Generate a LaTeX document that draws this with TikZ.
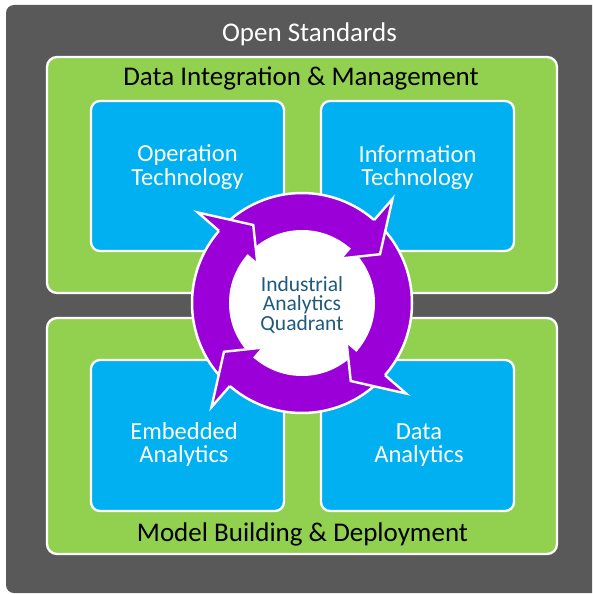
\documentclass[tikz,border=0pt]{standalone}
\usepackage{fontspec}
\setmainfont{Carlito}
\definecolor{bggray}{HTML}{595959}
\definecolor{grn}{HTML}{92D050}
\definecolor{blu}{HTML}{00B0F0}
\definecolor{ringpurple}{RGB}{155,0,217}
\definecolor{ctrtext}{RGB}{31,90,125}
\begin{document}
\begin{tikzpicture}[x=1pt,y=-1pt,
  panel/.style={draw=white, line width=2.3pt, fill=grn, rounded corners=10pt},
  bluebox/.style={draw=white, line width=2.3pt, fill=blu, rounded corners=9pt},
  ttl/.style={font=\fontsize{27}{30}\selectfont, anchor=base, inner sep=0pt},
  btxt/.style={font=\fontsize{24.5}{23.5}\selectfont, text=white, align=center, anchor=center, inner sep=0pt},
  ctxt/.style={font=\fontsize{21.5}{19.5}\selectfont, text=ctrtext, align=center, anchor=center, inner sep=0pt},
  headline/.style={draw=white, line width=2.4pt, line join=miter}]
\useasboundingbox (0,0) rectangle (592,594);
\clip (0,0) rectangle (592,594);
\fill[white] (0,0) rectangle (592,594);
% outer gray panel
\fill[bggray, rounded corners=8pt] (6,5) rectangle (610,593);
% green panels
\draw[panel] (47,57) rectangle (557,293);
\draw[panel] (47,318) rectangle (557,554);
% blue boxes
\draw[bluebox] (91,101) rectangle (284,251);
\draw[bluebox] (321,101) rectangle (514,251);
\draw[bluebox] (91,360) rectangle (284,511);
\draw[bluebox] (321,360) rectangle (514,511);
% titles
\node[ttl, text=white] (os) at (309.5,42) {Open Standards};
\node[ttl] (dim) at (301,85.5) {Data Integration \& Management};
\node[ttl] (mbd) at (302.5,541) {Model Building \& Deployment};
% box texts
\node[btxt] (ot) at (187.5,167.2) {Operation\\Technology};
\node[btxt] (it) at (417.5,167.6) {Information\\Technology};
\node[btxt] (ea) at (184,444.7) {Embedded\\Analytics};
\node[btxt] (da) at (419,445.2) {Data\\Analytics};
% circular arrows
\begin{scope}[shift={(302,303)}]
  \draw[white, line width=2.5pt, fill=ringpurple] (0,0) circle[radius=110pt];
  \fill[white] (0,0) circle[radius=73pt];
  \foreach \k in {0,1,2,3} {
    \pgfmathsetmacro\b{49+90*\k}
    \pgfmathsetmacro\t{32+90*\k}
    \fill[ringpurple] (\b:110pt) -- (\b:138pt) -- (\t:92pt) -- (\b:59pt) -- (\b:73pt) -- cycle;
    \draw[headline] (\b:110pt) -- (\b:138pt) -- (\t:92pt) -- (\b:59pt) -- (\b:73pt);
  }
\end{scope}
% center text
\node[ctxt] (ctr) at (302,304.7) {Industrial\\Analytics\\Quadrant};
\end{tikzpicture}
\end{document}
